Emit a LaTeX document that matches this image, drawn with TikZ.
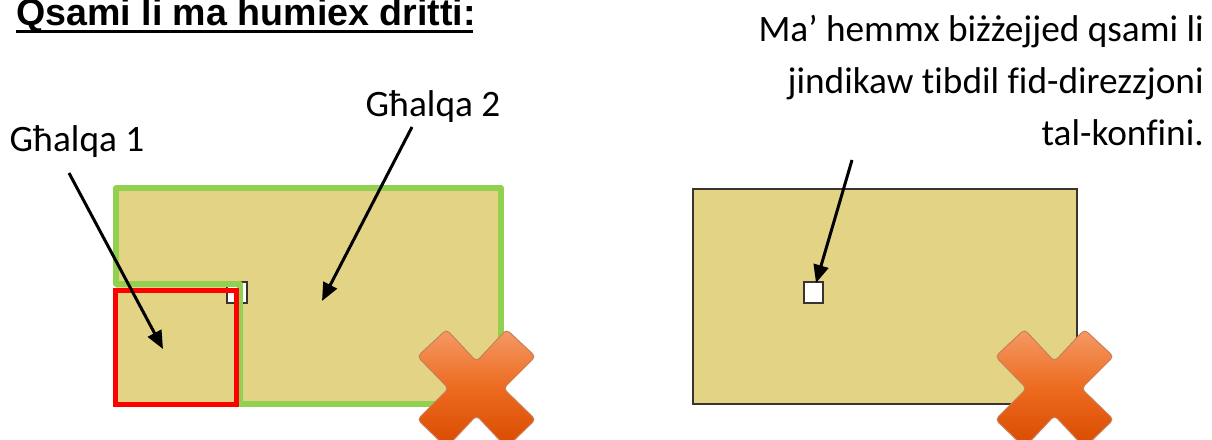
\documentclass[tikz,border=0pt]{standalone}
\usepackage{fontspec}
\setmainfont{Carlito}[Ligatures=NoCommon]
\newfontfamily\titlefont{Liberation Sans}
\usetikzlibrary{arrows.meta}
\definecolor{tan}{HTML}{E3D385}
\definecolor{grn}{HTML}{92D050}
\definecolor{dk}{HTML}{3A3430}
\tikzset{
  lbl/.style={font=\fontsize{37.3}{53}\selectfont, inner sep=0pt, text=black},
  arr/.style={draw=black, line width=3pt, -{Triangle[length=18pt,width=15pt]}},
  xtop/.style={top color=xa, bottom color=xb, middle color=xc, draw=xe, line width=1pt, rounded corners=4pt}
}
\definecolor{xa}{HTML}{F59A66}
\definecolor{xc}{HTML}{EC6A1E}
\definecolor{xb}{HTML}{D94A00}
\definecolor{xe}{HTML}{C9805A}
\newcommand{\bigx}[2]{%
  \begin{scope}[shift={(#1,#2)}]
    \path[xtop] (-30,-59) -- (0,-27) -- (30,-59) -- (59,-32) -- (27,0) -- (59,31) -- (30,59) -- (0,27) -- (-30,59) -- (-59,31) -- (-28,0) -- (-59,-32) -- cycle;
  \end{scope}}
\begin{document}
\begin{tikzpicture}[x=1pt,y=-1pt]
\useasboundingbox (0,0) rectangle (1212,439);
\clip (0,0) rectangle (1212,439);
% left
\fill[tan] (116,188) rectangle (501,404);
\node[draw=dk, fill=white, line width=2.2pt, inner sep=0pt, anchor=north west, minimum width=20pt, minimum height=21pt] (sqa) at (225.5,281) {};
\draw[grn, line width=5.5pt, line join=round] (116,188) -- (501,188) -- (501,404) -- (240,404) -- (240,284) -- (116,284) -- cycle;
\draw[red, line width=5pt] (115.5,290.5) rectangle (236,404.5);
\bigx{476.5}{388.5}
% right
\node[draw=dk, fill=tan, line width=1.8pt, inner sep=0pt, anchor=north west, minimum width=384pt, minimum height=215pt] (rb) at (692,188) {};
\node[draw=dk, fill=white, line width=2.4pt, inner sep=0pt, anchor=north west, minimum width=19pt, minimum height=21pt] (sqb) at (802.5,281) {};
\bigx{1054.5}{388.5}
% texts
\node[font=\titlefont\bfseries\fontsize{37.6}{40}\selectfont, anchor=base west, inner sep=0pt] (title) at (16,25.5) {Qsami li ma humiex dritti:};
\fill[black] (16,29.5) rectangle (473,33);
\node[lbl, anchor=base] (g2) at (433,116) {Għalqa 2};
\node[lbl, anchor=base] (g1) at (77,151) {Għalqa 1};
\node[lbl, anchor=base east] (note) at (1204,41) {Ma’ hemmx biżżejjed qsami li};
\node[lbl, anchor=base east] (note2) at (1204,93) {jindikaw tibdil fid-direzzjoni};
\node[lbl, anchor=base east] (note3) at (1204,145) {tal-konfini.};
% connectors
\coordinate (a1s) at (69,173); \coordinate (a1e) at (163,349);
\coordinate (a2s) at (412,127); \coordinate (a2e) at (322,301);
\coordinate (a3s) at (852,160); \coordinate (a3e) at (816,283);
\draw[arr] (a1s) -- (a1e);
\draw[arr] (a2s) -- (a2e);
\draw[arr] (a3s) -- (a3e);
\end{tikzpicture}
\end{document}
